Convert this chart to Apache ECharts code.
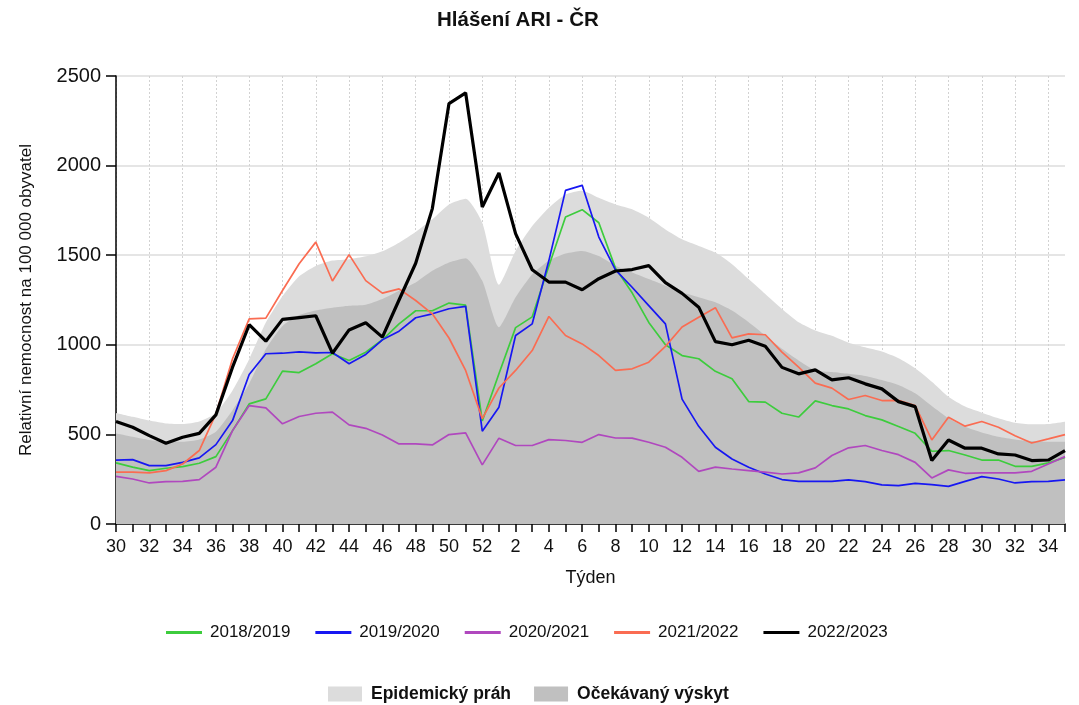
<!DOCTYPE html>
<html>
<head>
<meta charset="utf-8">
<script src="https://cdn.jsdelivr.net/npm/echarts@6/dist/echarts.min.js"></script>
<style>
html,body{margin:0;padding:0;background:#fff;}
#chart{width:1079px;height:705px;}
</style>
</head>
<body>
<div id="chart"></div>
<script>
const weeks = ['30','31','32','33','34','35','36','37','38','39','40','41','42','43','44','45','46','47','48','49','50','51','52',
  '1','2','3','4','5','6','7','8','9','10','11','12','13','14','15','16','17','18','19','20','21','22','23','24','25','26','27','28','29','30','31','32','33','34','35'];

const s2018 = [341,317,298,311,320,339,376,521,670,698,853,845,894,950,912,959,1028,1117,1190,1190,1233,1221,575,838,1096,1156,1440,1713,1754,1681,1428,1290,1125,1000,940,922,852,810,683,680,618,597,687,661,642,605,581,544,506,406,410,385,357,357,322,322,341,372];
const s2019 = [357,359,326,326,344,369,443,577,834,950,953,961,955,957,894,946,1028,1076,1151,1173,1201,1214,518,652,1052,1117,1470,1862,1890,1601,1418,1321,1219,1117,697,545,428,363,317,279,248,238,238,238,246,236,218,214,227,220,210,238,264,251,229,236,238,246];
const s2020 = [266,251,229,236,238,248,317,521,661,648,559,600,618,624,553,534,497,447,447,441,499,508,330,479,438,438,471,466,456,499,480,479,456,428,372,294,317,307,298,289,279,285,313,382,425,438,410,387,344,257,302,283,285,285,285,294,335,376];
const s2021 = [289,289,285,298,335,410,614,922,1145,1149,1303,1452,1573,1356,1503,1358,1288,1312,1247,1173,1038,857,588,759,857,968,1158,1052,1005,940,857,866,903,991,1099,1154,1207,1039,1061,1056,959,875,786,758,695,717,689,690,661,469,596,546,572,540,493,452,475,499];
const s2022 = [572,540,493,451,484,506,609,875,1112,1020,1142,1152,1162,953,1083,1123,1043,1250,1455,1760,2346,2406,1769,1959,1620,1419,1350,1350,1307,1369,1412,1420,1442,1347,1287,1210,1018,1000,1025,992,874,838,860,804,816,782,754,683,655,354,469,423,423,391,385,354,357,410];
const threshold = [620,598,577,561,558,572,620,745,920,1124,1271,1382,1440,1470,1478,1494,1522,1570,1630,1700,1783,1815,1681,1335,1524,1663,1765,1839,1860,1820,1783,1756,1709,1644,1589,1552,1515,1450,1367,1283,1200,1126,1080,1050,1012,986,962,925,869,794,710,655,621,590,565,556,558,571];
const expected = [505,487,469,459,459,472,515,635,782,976,1105,1166,1192,1207,1218,1224,1256,1302,1348,1413,1459,1483,1357,1098,1265,1394,1469,1509,1524,1495,1441,1404,1367,1330,1293,1265,1237,1191,1126,1052,978,913,857,848,838,826,803,775,729,658,590,543,511,487,472,463,459,459];

const seasonNames = ['2018/2019','2019/2020','2020/2021','2021/2022','2022/2023'];
const seasonData = [s2018, s2019, s2020, s2021, s2022];
const seasonColors = ['#3dcc3d','#1717f2','#b048be','#fa6c52','#000000'];
const seasonWidths = [1.7,1.7,1.7,1.7,3.2];
const areaNames = ['Epidemický práh','Očekávaný výskyt'];
const areaData = [threshold, expected];
const areaColors = ['#dcdcdc','#c0c0c0'];

const FONT = '"Liberation Sans", Arial, sans-serif';

const series = [];
areaNames.forEach((n, k) => {
  series.push({
    name: n, type: 'line', data: areaData[k], symbol: 'none', smooth: 0.2,
    lineStyle: {width: 0, color: areaColors[k]},
    itemStyle: {color: areaColors[k]},
    areaStyle: {color: areaColors[k], opacity: 1},
    z: 1 + k, silent: true
  });
});
seasonNames.forEach((n, k) => {
  series.push({
    name: n, type: 'line', data: seasonData[k], symbol: 'none',
    lineStyle: {width: seasonWidths[k], color: seasonColors[k]},
    itemStyle: {color: seasonColors[k]},
    z: 5 + k, silent: true
  });
});

const chart = echarts.init(document.getElementById('chart'), null, {renderer: 'canvas'});
chart.setOption({
  animation: false,
  backgroundColor: '#ffffff',
  title: {
    text: 'Hlášení ARI - ČR', left: 432, top: 5,
    textStyle: {fontFamily: FONT, fontSize: 20.5, fontWeight: 'bold', color: '#111'}
  },
  grid: {left: 116, right: 14, top: 76, bottom: 181, containLabel: false},
  legend: [
    {
      data: seasonNames, left: 161, top: 619, icon: 'rect',
      itemWidth: 36, itemHeight: 3, itemGap: 25,
      textStyle: {fontFamily: FONT, fontSize: 17, color: '#111', padding: [0,0,0,3]}
    },
    {
      data: areaNames, left: 323, top: 680, icon: 'rect',
      itemWidth: 34, itemHeight: 15, itemGap: 23,
      textStyle: {fontFamily: FONT, fontSize: 17.5, fontWeight: 'bold', color: '#111', padding: [0,0,0,4]}
    }
  ],
  xAxis: {
    type: 'category', data: weeks, boundaryGap: false,
    name: 'Týden', nameLocation: 'middle', nameGap: 45,
    nameTextStyle: {fontFamily: FONT, fontSize: 18, color: '#111'},
    axisLine: {lineStyle: {color: '#000', width: 1.5}},
    axisTick: {show: true, interval: 0, length: 8, lineStyle: {color: '#000', width: 1.5}},
    axisLabel: {interval: 1, margin: 14, fontFamily: FONT, fontSize: 18, color: '#111'},
    splitLine: {show: true, interval: 1, lineStyle: {color: '#d2d2d2', type: [2, 2], width: 1}}
  },
  yAxis: {
    type: 'value', min: 0, max: 2500, interval: 500,
    name: 'Relativní nemocnost na 100 000 obyvatel', nameLocation: 'middle', nameGap: 81, nameRotate: 90,
    nameTextStyle: {fontFamily: FONT, fontSize: 17, color: '#111'},
    axisLine: {show: true, lineStyle: {color: '#000', width: 1.5}},
    axisTick: {show: true, length: 10, lineStyle: {color: '#000', width: 1.5}},
    axisLabel: {margin: 15, fontFamily: FONT, fontSize: 20, color: '#111', formatter: v => String(v)},
    splitLine: {show: true, lineStyle: {color: '#dddddd', width: 1.5}}
  },
  series: series
});
</script>
</body>
</html>
